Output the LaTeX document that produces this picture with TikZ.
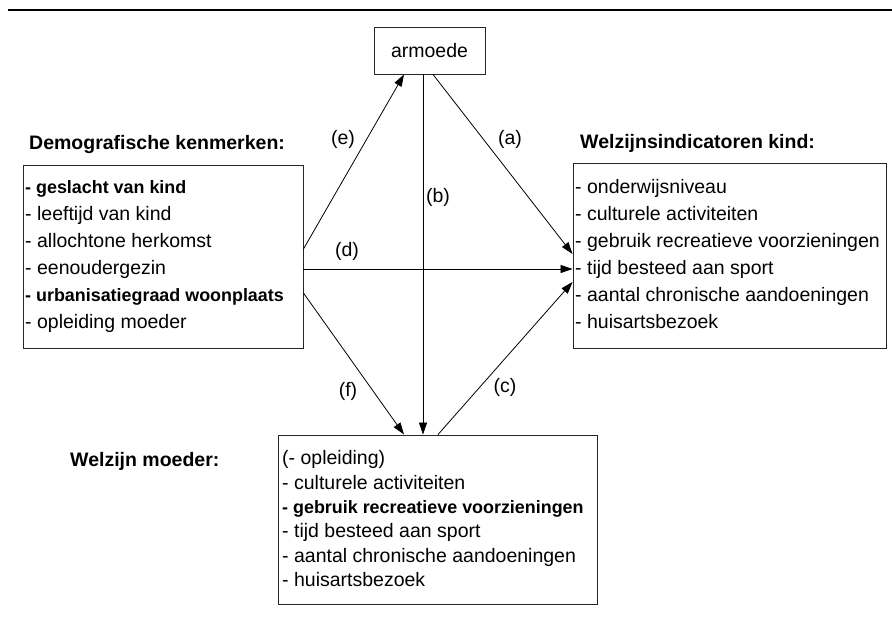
\documentclass[tikz,border=0pt]{standalone}
\usepackage{fontspec}
\setmainfont{Liberation Sans}
\usetikzlibrary{arrows.meta}
\newcommand{\bodybold}[1]{{\fontsize{17.9}{27}\selectfont\bfseries #1}}
\begin{document}
\begin{tikzpicture}[x=1pt,y=-1pt,
  box/.style={draw=black!85, line width=0.9pt, inner sep=0pt},
  txt/.style={anchor=base west, inner sep=0pt, font=\fontsize{19.5}{27}\selectfont},
  lbl/.style={anchor=base, inner sep=0pt, font=\fontsize{19.5}{27}\selectfont},
  conn/.style={line width=0.8pt, -{Triangle[length=12pt,width=8pt]}},
  ]
\useasboundingbox (0,0) rectangle (892,617);
\coordinate (ruleL) at (8,10);
\coordinate (ruleR) at (892,10);
\draw[line width=2.5pt] (ruleL) -- (ruleR);

% boxes
\node[box, minimum width=111pt, minimum height=47pt, font=\fontsize{19.5}{27}\selectfont] (arm) at (429.5,50.5) {armoede};
\node[box, minimum width=280pt, minimum height=183pt] (dem) at (163,256.5) {};
\node[box, minimum width=313pt, minimum height=185pt] (ind) at (729.5,255.5) {};
\node[box, minimum width=319pt, minimum height=169pt] (moe) at (437.5,519.5) {};

% titles
\node[txt, font=\fontsize{19.5}{27}\selectfont\bfseries] (tdem) at (29,150) {Demografische kenmerken:};
\node[txt, font=\fontsize{19.5}{27}\selectfont\bfseries] (tind) at (580,149) {Welzijnsindicatoren kind:};
\node[txt, font=\fontsize{19.5}{27}\selectfont\bfseries] (tmoe) at (70,467) {Welzijn moeder:};

% left box text
\foreach \t [count=\i] in {{\bodybold{- geslacht van kind}}, - leeftijd van kind, - allochtone herkomst, - eenoudergezin, {\bodybold{- urbanisatiegraad woonplaats}}, - opleiding moeder}
  \node[txt] (dem\i) at (25,{194+27*(\i-1)}) {\t};

% right box text
\foreach \t [count=\i] in {- onderwijsniveau, - culturele activiteiten, - gebruik recreatieve voorzieningen, - tijd besteed aan sport, - aantal chronische aandoeningen, - huisartsbezoek}
  \node[txt] (ind\i) at (575,{194+27*(\i-1)}) {\t};

% bottom box text
\foreach \t [count=\i] in {(- opleiding), - culturele activiteiten, {\bodybold{- gebruik recreatieve voorzieningen}}, - tijd besteed aan sport, - aantal chronische aandoeningen, - huisartsbezoek}
  \node[txt] (moe\i) at (282,{465+24.3*(\i-1)}) {\t};

% connector end points
\coordinate (eS) at (dem.east |- 0,249);
\coordinate (eE) at (arm.south -| 404,0);
\coordinate (bS) at (arm.south -| 423,0);
\coordinate (bE) at (moe.north -| 423,0);
\coordinate (aS) at (arm.south -| 433,0);
\coordinate (aE) at (ind.west |- 0,254);
\coordinate (dS) at (dem.east |- 0,269);
\coordinate (dE) at (ind.west |- 0,269);
\coordinate (fS) at (dem.east |- 0,293);
\coordinate (fE) at (moe.north -| 404,0);
\coordinate (cS) at (moe.north -| 438,0);
\coordinate (cE) at (ind.west |- 0,282);

\draw[conn] (eS) -- (eE);
\draw[conn] (bS) -- (bE);
\draw[conn] (aS) -- (aE);
\draw[conn] (dS) -- (dE);
\draw[conn] (fS) -- (fE);
\draw[conn] (cS) -- (cE);

% labels
\node[lbl] (le) at (343,145) {(e)};
\node[lbl] (la) at (510,145) {(a)};
\node[lbl] (lb) at (438,203) {(b)};
\node[lbl] (ld) at (347,257) {(d)};
\node[lbl] (lf) at (348,397) {(f)};
\node[lbl] (lc) at (505,393) {(c)};
\end{tikzpicture}
\end{document}
